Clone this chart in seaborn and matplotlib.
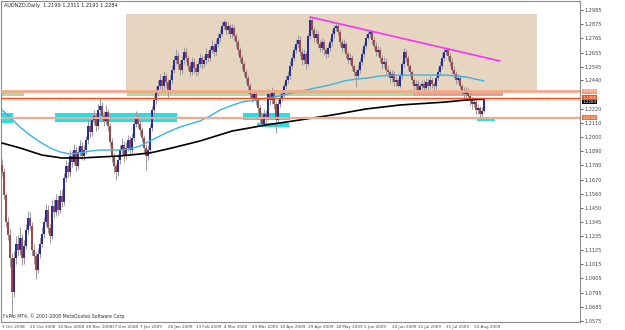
import numpy as np
import pandas as pd
import seaborn as sns
import matplotlib.pyplot as plt
from matplotlib.patches import Rectangle

# daily AUDNZD bars (bar 0 = 3 Oct 2008)
opens = [
    1.1784, 1.1730, 1.1551, 1.1342, 1.1241, 1.1063, 1.0800, 1.1063, 1.1172, 1.1125,
    1.1218, 1.1063, 1.1156, 1.1280, 1.1373, 1.1311, 1.1125, 1.1079, 1.0970, 1.1094,
    1.1172, 1.1249, 1.1342, 1.1435, 1.1296, 1.1234, 1.1466, 1.1420, 1.1513, 1.1435,
    1.1544, 1.1497, 1.1683, 1.1776, 1.1730, 1.1854, 1.1807, 1.1900, 1.1776, 1.1885,
    1.1931, 1.1854, 1.1900, 1.1978, 1.2086, 1.2040, 1.2133, 1.2164, 1.2086, 1.2210,
    1.2241, 1.2164, 1.2125, 1.2195, 1.2086, 1.1962, 1.1854, 1.1776, 1.1730, 1.1823,
    1.1900, 1.1939, 1.1854, 1.1916, 1.1978, 1.1900, 1.1993, 1.2102, 1.2148, 1.2102,
    1.2055, 1.1993, 1.1916, 1.1854, 1.1900, 1.2071, 1.2210, 1.2288, 1.2350, 1.2396,
    1.2443, 1.2396, 1.2474, 1.2427, 1.2365, 1.2443, 1.2520, 1.2598, 1.2629, 1.2567,
    1.2520, 1.2598, 1.2660, 1.2613, 1.2551, 1.2505, 1.2582, 1.2536, 1.2505, 1.2567,
    1.2613, 1.2567, 1.2598, 1.2644, 1.2613, 1.2675, 1.2706, 1.2660, 1.2722, 1.2768,
    1.2799, 1.2861, 1.2892, 1.2830, 1.2861, 1.2799, 1.2846, 1.2784, 1.2737, 1.2675,
    1.2613, 1.2567, 1.2505, 1.2458, 1.2396, 1.2334, 1.2303, 1.2334, 1.2288, 1.2226,
    1.2148, 1.2102, 1.2179, 1.2148, 1.2334, 1.2288, 1.2350, 1.2257, 1.2133, 1.2257,
    1.2303, 1.2334, 1.2396, 1.2443, 1.2474, 1.2551, 1.2613, 1.2675, 1.2722, 1.2753,
    1.2660, 1.2598, 1.2644, 1.2567, 1.2784, 1.2908, 1.2830, 1.2768, 1.2799, 1.2722,
    1.2691, 1.2737, 1.2675, 1.2644, 1.2691, 1.2737, 1.2799, 1.2846, 1.2861, 1.2815,
    1.2737, 1.2691, 1.2722, 1.2644, 1.2598, 1.2613, 1.2551, 1.2505, 1.2474, 1.2520,
    1.2582, 1.2644, 1.2706, 1.2768, 1.2799, 1.2815, 1.2753, 1.2706, 1.2660, 1.2675,
    1.2613, 1.2567, 1.2582, 1.2520, 1.2505, 1.2458, 1.2489, 1.2427, 1.2443, 1.2396,
    1.2474, 1.2567, 1.2660, 1.2613, 1.2551, 1.2505, 1.2443, 1.2396, 1.2412, 1.2365,
    1.2396, 1.2412, 1.2381, 1.2427, 1.2396, 1.2443, 1.2412, 1.2396, 1.2458, 1.2505,
    1.2551, 1.2613, 1.2660, 1.2675, 1.2629, 1.2582, 1.2520, 1.2489, 1.2443, 1.2458,
    1.2396, 1.2365, 1.2334, 1.2365, 1.2319, 1.2288, 1.2257, 1.2272, 1.2210, 1.2226,
    1.2179, 1.2199,
]
highs = [
    1.1830, 1.1760, 1.1570, 1.1380, 1.1290, 1.1100, 1.1120, 1.1230, 1.1240, 1.1300,
    1.1250, 1.1200, 1.1330, 1.1430, 1.1420, 1.1340, 1.1170, 1.1110, 1.1140, 1.1220,
    1.1300, 1.1380, 1.1480, 1.1470, 1.1330, 1.1510, 1.1520, 1.1560, 1.1550, 1.1590,
    1.1600, 1.1720, 1.1820, 1.1810, 1.1900, 1.1890, 1.1950, 1.1930, 1.1920, 1.1980,
    1.1960, 1.1940, 1.2010, 1.2130, 1.2120, 1.2170, 1.2210, 1.2190, 1.2260, 1.2300,
    1.2270, 1.2200, 1.2250, 1.2220, 1.2110, 1.1990, 1.1880, 1.1800, 1.1860, 1.1940,
    1.1990, 1.1970, 1.1960, 1.2020, 1.2010, 1.2030, 1.2140, 1.2200, 1.2180, 1.2130,
    1.2080, 1.2020, 1.1950, 1.1940, 1.2100, 1.2240, 1.2320, 1.2400, 1.2440, 1.2490,
    1.2470, 1.2510, 1.2500, 1.2450, 1.2480, 1.2560, 1.2640, 1.2680, 1.2660, 1.2600,
    1.2630, 1.2700, 1.2690, 1.2640, 1.2580, 1.2620, 1.2610, 1.2570, 1.2600, 1.2650,
    1.2640, 1.2630, 1.2690, 1.2670, 1.2710, 1.2750, 1.2730, 1.2760, 1.2810, 1.2840,
    1.2890, 1.2910, 1.2900, 1.2890, 1.2880, 1.2880, 1.2870, 1.2810, 1.2760, 1.2700,
    1.2640, 1.2590, 1.2530, 1.2480, 1.2420, 1.2370, 1.2370, 1.2360, 1.2310, 1.2250,
    1.2170, 1.2220, 1.2210, 1.2370, 1.2360, 1.2390, 1.2370, 1.2280, 1.2290, 1.2340,
    1.2370, 1.2430, 1.2480, 1.2510, 1.2590, 1.2650, 1.2710, 1.2760, 1.2790, 1.2780,
    1.2690, 1.2680, 1.2670, 1.2810, 1.2931, 1.2920, 1.2850, 1.2840, 1.2820, 1.2750,
    1.2770, 1.2760, 1.2700, 1.2720, 1.2770, 1.2830, 1.2870, 1.2884, 1.2880, 1.2840,
    1.2760, 1.2760, 1.2740, 1.2670, 1.2650, 1.2640, 1.2570, 1.2530, 1.2560, 1.2610,
    1.2680, 1.2740, 1.2800, 1.2825, 1.2840, 1.2830, 1.2780, 1.2740, 1.2710, 1.2700,
    1.2640, 1.2620, 1.2610, 1.2550, 1.2530, 1.2520, 1.2510, 1.2470, 1.2460, 1.2500,
    1.2590, 1.2690, 1.2680, 1.2640, 1.2570, 1.2520, 1.2460, 1.2440, 1.2440, 1.2420,
    1.2440, 1.2440, 1.2460, 1.2450, 1.2470, 1.2460, 1.2430, 1.2490, 1.2540, 1.2590,
    1.2650, 1.2690, 1.2700, 1.2690, 1.2650, 1.2610, 1.2550, 1.2510, 1.2490, 1.2480,
    1.2420, 1.2390, 1.2390, 1.2380, 1.2340, 1.2310, 1.2300, 1.2290, 1.2260, 1.2240,
    1.2230, 1.2311,
]
lows = [
    1.1700, 1.1520, 1.1300, 1.1200, 1.0990, 1.0606, 1.0760, 1.1020, 1.1080, 1.1090,
    1.1010, 1.1020, 1.1130, 1.1250, 1.1280, 1.1080, 1.1020, 1.0900, 1.0950, 1.1060,
    1.1150, 1.1220, 1.1310, 1.1260, 1.1180, 1.1210, 1.1380, 1.1390, 1.1400, 1.1410,
    1.1460, 1.1470, 1.1650, 1.1690, 1.1700, 1.1770, 1.1780, 1.1740, 1.1750, 1.1850,
    1.1820, 1.1820, 1.1870, 1.1950, 1.2000, 1.2010, 1.2100, 1.2050, 1.2060, 1.2180,
    1.2130, 1.2090, 1.2100, 1.2050, 1.1930, 1.1810, 1.1720, 1.1668, 1.1700, 1.1790,
    1.1870, 1.1810, 1.1830, 1.1890, 1.1860, 1.1880, 1.1970, 1.2080, 1.2070, 1.2020,
    1.1960, 1.1880, 1.1745, 1.1820, 1.1880, 1.2050, 1.2180, 1.2260, 1.2320, 1.2370,
    1.2360, 1.2370, 1.2390, 1.2310, 1.2340, 1.2420, 1.2500, 1.2570, 1.2530, 1.2480,
    1.2500, 1.2570, 1.2580, 1.2520, 1.2470, 1.2480, 1.2500, 1.2470, 1.2480, 1.2540,
    1.2530, 1.2540, 1.2570, 1.2580, 1.2590, 1.2650, 1.2630, 1.2640, 1.2700, 1.2740,
    1.2780, 1.2840, 1.2800, 1.2800, 1.2770, 1.2770, 1.2750, 1.2700, 1.2640, 1.2580,
    1.2530, 1.2470, 1.2420, 1.2360, 1.2300, 1.2270, 1.2280, 1.2250, 1.2190, 1.2110,
    1.2078, 1.2090, 1.2110, 1.2130, 1.2250, 1.2260, 1.2220, 1.2032, 1.2110, 1.2230,
    1.2280, 1.2310, 1.2370, 1.2420, 1.2450, 1.2530, 1.2590, 1.2650, 1.2700, 1.2630,
    1.2560, 1.2570, 1.2530, 1.2550, 1.2760, 1.2800, 1.2740, 1.2740, 1.2690, 1.2660,
    1.2660, 1.2640, 1.2610, 1.2620, 1.2670, 1.2710, 1.2770, 1.2820, 1.2790, 1.2710,
    1.2660, 1.2670, 1.2610, 1.2570, 1.2570, 1.2520, 1.2470, 1.2388, 1.2450, 1.2500,
    1.2560, 1.2620, 1.2680, 1.2750, 1.2770, 1.2720, 1.2680, 1.2630, 1.2630, 1.2580,
    1.2530, 1.2540, 1.2490, 1.2470, 1.2420, 1.2430, 1.2400, 1.2400, 1.2388, 1.2380,
    1.2450, 1.2540, 1.2580, 1.2520, 1.2470, 1.2410, 1.2360, 1.2360, 1.2340, 1.2340,
    1.2370, 1.2350, 1.2360, 1.2370, 1.2370, 1.2380, 1.2360, 1.2370, 1.2440, 1.2480,
    1.2530, 1.2590, 1.2640, 1.2600, 1.2550, 1.2490, 1.2460, 1.2410, 1.2420, 1.2370,
    1.2330, 1.2300, 1.2310, 1.2290, 1.2250, 1.2220, 1.2230, 1.2180, 1.2180, 1.2140,
    1.2133, 1.2191,
]
closes = [
    1.1730, 1.1551, 1.1342, 1.1241, 1.1063, 1.0800, 1.1063, 1.1172, 1.1125, 1.1218,
    1.1063, 1.1156, 1.1280, 1.1373, 1.1311, 1.1125, 1.1079, 1.0970, 1.1094, 1.1172,
    1.1249, 1.1342, 1.1435, 1.1296, 1.1234, 1.1466, 1.1420, 1.1513, 1.1435, 1.1544,
    1.1497, 1.1683, 1.1776, 1.1730, 1.1854, 1.1807, 1.1900, 1.1776, 1.1885, 1.1931,
    1.1854, 1.1900, 1.1978, 1.2086, 1.2040, 1.2133, 1.2164, 1.2086, 1.2210, 1.2241,
    1.2164, 1.2125, 1.2195, 1.2086, 1.1962, 1.1854, 1.1776, 1.1730, 1.1823, 1.1900,
    1.1939, 1.1854, 1.1916, 1.1978, 1.1900, 1.1993, 1.2102, 1.2148, 1.2102, 1.2055,
    1.1993, 1.1916, 1.1854, 1.1900, 1.2071, 1.2210, 1.2288, 1.2350, 1.2396, 1.2443,
    1.2396, 1.2474, 1.2427, 1.2365, 1.2443, 1.2520, 1.2598, 1.2629, 1.2567, 1.2520,
    1.2598, 1.2660, 1.2613, 1.2551, 1.2505, 1.2582, 1.2536, 1.2505, 1.2567, 1.2613,
    1.2567, 1.2598, 1.2644, 1.2613, 1.2675, 1.2706, 1.2660, 1.2722, 1.2768, 1.2799,
    1.2861, 1.2892, 1.2830, 1.2861, 1.2799, 1.2846, 1.2784, 1.2737, 1.2675, 1.2613,
    1.2567, 1.2505, 1.2458, 1.2396, 1.2334, 1.2303, 1.2334, 1.2288, 1.2226, 1.2148,
    1.2102, 1.2179, 1.2148, 1.2334, 1.2288, 1.2350, 1.2257, 1.2133, 1.2257, 1.2303,
    1.2334, 1.2396, 1.2443, 1.2474, 1.2551, 1.2613, 1.2675, 1.2722, 1.2753, 1.2660,
    1.2598, 1.2644, 1.2567, 1.2784, 1.2908, 1.2830, 1.2768, 1.2799, 1.2722, 1.2691,
    1.2737, 1.2675, 1.2644, 1.2691, 1.2737, 1.2799, 1.2846, 1.2861, 1.2815, 1.2737,
    1.2691, 1.2722, 1.2644, 1.2598, 1.2613, 1.2551, 1.2505, 1.2474, 1.2520, 1.2582,
    1.2644, 1.2706, 1.2768, 1.2799, 1.2815, 1.2753, 1.2706, 1.2660, 1.2675, 1.2613,
    1.2567, 1.2582, 1.2520, 1.2505, 1.2458, 1.2489, 1.2427, 1.2443, 1.2396, 1.2474,
    1.2567, 1.2660, 1.2613, 1.2551, 1.2505, 1.2443, 1.2396, 1.2412, 1.2365, 1.2396,
    1.2412, 1.2381, 1.2427, 1.2396, 1.2443, 1.2412, 1.2396, 1.2458, 1.2505, 1.2551,
    1.2613, 1.2660, 1.2675, 1.2629, 1.2582, 1.2520, 1.2489, 1.2443, 1.2458, 1.2396,
    1.2365, 1.2334, 1.2365, 1.2319, 1.2288, 1.2257, 1.2272, 1.2210, 1.2226, 1.2179,
    1.2199, 1.2284,
]

# moving averages (light blue = faster, black = slower), sampled along the line
fast_bar = [0, 4, 9, 14, 19, 24, 29, 34, 39, 44, 49, 59, 64, 69, 74, 79, 84, 89, 94, 99,
            104, 109, 114, 120, 127, 133, 139, 145, 152, 159, 164, 171, 177, 183, 189,
            199, 209, 222, 232, 241]
fast_val = [1.2210, 1.2156, 1.2078, 1.2016, 1.1962, 1.1916, 1.1885, 1.1869, 1.1877, 1.1892,
            1.1900, 1.1900, 1.1908, 1.1931, 1.1970, 1.2009, 1.2047, 1.2078, 1.2102, 1.2125,
            1.2164, 1.2210, 1.2241, 1.2272, 1.2288, 1.2303, 1.2319, 1.2342, 1.2365, 1.2388,
            1.2404, 1.2435, 1.2450, 1.2458, 1.2474, 1.2481, 1.2481, 1.2481, 1.2466, 1.2435]
slow_bar = [0, 9, 20, 30, 39, 49, 59, 74, 85, 99, 115, 132, 149, 165, 182, 199, 222, 232, 241]
slow_val = [1.1954, 1.1916, 1.1861, 1.1838, 1.1838, 1.1846, 1.1854, 1.1877, 1.1916, 1.1970,
            1.2047, 1.2094, 1.2133, 1.2171, 1.2218, 1.2249, 1.2272, 1.2288, 1.2295]

# 1.2330 sits under the price flags on the scale, so it is left out
price_ticks = [1.2985, 1.2875, 1.2765, 1.2655, 1.2545, 1.2440, 1.2220, 1.2110,
               1.2000, 1.1890, 1.1780, 1.1670, 1.1560, 1.1450, 1.1345, 1.1235, 1.1125,
               1.1015, 1.0905, 1.0795, 1.0685, 1.0575]
date_ticks = [0, 14, 28, 42, 55, 69, 83, 97, 111, 125, 139, 153, 167, 181, 195, 208, 222, 236]
date_labels = ['3 Oct 2008', '22 Oct 2008', '10 Nov 2008', '28 Nov 2008', '17 Dec 2008',
               '7 Jan 2009', '26 Jan 2009', '13 Feb 2009', '4 Mar 2009', '23 Mar 2009',
               '10 Apr 2009', '29 Apr 2009', '18 May 2009', '5 Jun 2009', '24 Jun 2009',
               '13 Jul 2009', '31 Jul 2009', '20 Aug 2009']

# drawn objects: zones (bar from, bar to, price low, price high), levels, trendline
zone_tan = (62, 267.5, 1.2357, 1.2954)
zone_green = [(-0.5, 11, 1.2318, 1.2350), (62.5, 205.5, 1.2318, 1.2350)]
zone_pink = (205.5, 250.5, 1.2320, 1.2357)
zones_cyan = [(-0.5, 5.5, 1.2109, 1.2187), (26.5, 87.5, 1.2117, 1.2187),
              (120.5, 144, 1.2133, 1.2187), (127.5, 143.5, 1.2078, 1.2109),
              (237.5, 246.5, 1.2125, 1.2148)]
level_top = 1.2355
level_mid = 1.2305
level_low = 1.2150
trend_bar = [154, 249]
trend_val = [1.2931, 1.2590]

sns.set_style('white')
plt.rcParams['font.family'] = ['DejaVu Sans']

fig = plt.figure(figsize=(6.25, 3.3), dpi=100)
ax = fig.add_axes([1 / 625, 8 / 330, 579 / 625, 321 / 330])
ax.set_xlim(-0.5, 289)
ax.set_ylim(1.0567, 1.3055)

def box(z, color, zo=1):
    ax.add_patch(Rectangle((z[0], z[2]), z[1] - z[0], z[3] - z[2],
                           facecolor=color, edgecolor='none', zorder=zo))

box(zone_tan, '#e6d6bf')
for z in zone_green:
    box(z, '#a9dc9c', 1.5)
box(zone_pink, '#e8a090', 1.6)
for z in zones_cyan:
    box(z, '#22e0e8', 1.7)

# candles
o = np.array(opens)
c = np.array(closes)
bars = np.arange(len(c))
up = c >= o
ax.vlines(bars, lows, highs, color='#999999', lw=0.7, zorder=3)
body = np.maximum(np.abs(c - o), 0.0006)
ax.bar(bars, body, bottom=np.minimum(o, c), width=0.55,
       color=np.where(up, '#2a2aa4', '#a04848'), linewidth=0, zorder=4)

df_fast = pd.DataFrame({'bar': fast_bar, 'price': fast_val})
df_slow = pd.DataFrame({'bar': slow_bar, 'price': slow_val})
sns.lineplot(data=df_fast, x='bar', y='price', ax=ax, color='#35b4e6', lw=1, zorder=5)
sns.lineplot(data=df_slow, x='bar', y='price', ax=ax, color='black', lw=1.2, zorder=5)

# horizontal levels and trendline
ax.axhline(level_top, color='#f5a88a', lw=2, zorder=6)
ax.axhline(level_mid, color='#ff4a10', lw=1, zorder=6)
ax.axhline(level_low, color='#f5a88a', lw=1.6, zorder=6)
ax.axhline(closes[-1], color='#b0b0b0', lw=0.6, ls=(0, (1, 1.5)), zorder=2)
ax.plot(trend_bar, trend_val, color='#ff30ff', lw=1.2, zorder=6)

# axes styling like the terminal
ax.set_xlabel('')
ax.set_ylabel('')
for s in ax.spines.values():
    s.set_color('#8a8a8a')
    s.set_linewidth(0.8)
ax.yaxis.tick_right()
ax.set_yticks(price_ticks)
ax.set_yticklabels([f'{v:.4f}' for v in price_ticks])
ax.tick_params(axis='y', labelsize=3.6, length=2, pad=1, colors='#444444', width=0.6)
ax.set_xticks(date_ticks)
ax.set_xticklabels(date_labels)
ax.tick_params(axis='x', labelsize=3.0, length=2, pad=0.5, colors='#444444', width=0.6)
for lab in ax.get_xticklabels():
    lab.set_ha('left')

# price flags on the right scale
trans = ax.get_yaxis_transform()
flags = [(level_top, '#f39a78', 0.0), (level_mid, '#ff4a10', 0.0),
         (closes[-1], 'black', -0.0012), (level_low, '#ff6a30', 0.0)]
for val, col, shift in flags:
    ax.text(1.004, val + shift, f'{val:.4f}', transform=trans, fontsize=3.0, color='white',
            va='center', ha='left', clip_on=False, zorder=10,
            bbox=dict(boxstyle='square,pad=0.1', facecolor=col, edgecolor='none'))

fig.text(4 / 625, 1 - 6 / 330, 'AUDNZD,Daily  1.2199 1.2311 1.2191 1.2284',
         fontsize=3.6, va='center', ha='left', color='#222222')
fig.text(3 / 625, 1 - 316 / 330, 'FxPro MT4, \u00a9 2001-2008 MetaQuotes Software Corp.',
         fontsize=3.3, va='center', ha='left', color='#333333')

fig.savefig('out.png', dpi=100)
